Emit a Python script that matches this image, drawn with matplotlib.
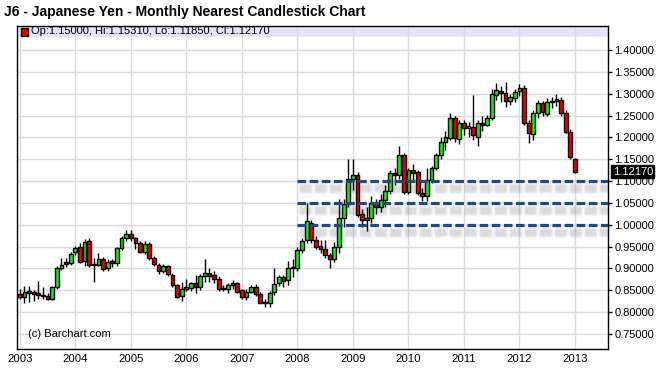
import pandas as pd
import matplotlib
matplotlib.use('Agg')
import matplotlib.pyplot as plt
import matplotlib.transforms as mtransforms
from matplotlib.patches import Rectangle

plt.rcParams['font.family'] = ['Liberation Sans', 'DejaVu Sans']

# monthly candles, Jan 2003 .. Jan 2013
months = pd.date_range('2003-01-01', periods=121, freq='MS')

opens = [
    0.841, 0.834, 0.847, 0.844, 0.843, 0.838, 0.837, 0.830, 0.857, 0.900, 0.914, 0.912,  # 2003
    0.937, 0.948, 0.916, 0.963, 0.909, 0.909, 0.921, 0.900, 0.915, 0.913, 0.946, 0.970,  # 2004
    0.980, 0.969, 0.958, 0.938, 0.956, 0.923, 0.908, 0.894, 0.906, 0.886, 0.862, 0.836,  # 2005
    0.854, 0.856, 0.866, 0.858, 0.883, 0.890, 0.885, 0.877, 0.856, 0.854, 0.862, 0.866,  # 2006
    0.850, 0.834, 0.846, 0.858, 0.841, 0.824, 0.820, 0.847, 0.866, 0.881, 0.873, 0.900,  # 2007
    0.902, 0.942, 0.965, 1.005, 0.965, 0.951, 0.945, 0.931, 0.921, 0.950, 1.015, 1.047,  # 2008
    1.105, 1.114, 1.025, 1.011, 1.015, 1.049, 1.040, 1.056, 1.077, 1.118, 1.114, 1.160,  # 2009
    1.076, 1.125, 1.120, 1.072, 1.066, 1.103, 1.131, 1.160, 1.190, 1.198, 1.245, 1.197,  # 2010
    1.234, 1.221, 1.224, 1.202, 1.234, 1.229, 1.244, 1.298, 1.306, 1.301, 1.283, 1.289,  # 2011
    1.306, 1.314, 1.232, 1.207, 1.255, 1.278, 1.253, 1.280, 1.283, 1.285, 1.255, 1.213,  # 2012
    1.15000,
]
highs = [
    0.852, 0.860, 0.861, 0.851, 0.871, 0.858, 0.845, 0.860, 0.905, 0.925, 0.923, 0.937,
    0.952, 0.958, 0.968, 0.970, 0.925, 0.935, 0.927, 0.922, 0.922, 0.950, 0.975, 0.987,
    0.988, 0.972, 0.963, 0.962, 0.960, 0.928, 0.912, 0.910, 0.909, 0.889, 0.865, 0.870,
    0.875, 0.868, 0.885, 0.888, 0.921, 0.900, 0.895, 0.883, 0.863, 0.866, 0.873, 0.870,
    0.853, 0.852, 0.862, 0.864, 0.846, 0.829, 0.848, 0.902, 0.885, 0.886, 0.918, 0.922,
    0.948, 0.970, 1.049, 1.010, 0.975, 0.965, 0.965, 0.935, 0.960, 1.060, 1.060, 1.150,
    1.150, 1.120, 1.035, 1.040, 1.065, 1.060, 1.070, 1.090, 1.125, 1.130, 1.180, 1.165,
    1.130, 1.140, 1.125, 1.085, 1.130, 1.135, 1.165, 1.200, 1.215, 1.255, 1.250, 1.240,
    1.240, 1.235, 1.297, 1.240, 1.250, 1.252, 1.310, 1.325, 1.318, 1.327, 1.300, 1.310,
    1.322, 1.320, 1.240, 1.262, 1.285, 1.283, 1.290, 1.292, 1.299, 1.292, 1.262, 1.220,
    1.15310,
]
lows = [
    0.830, 0.822, 0.823, 0.825, 0.830, 0.830, 0.828, 0.827, 0.852, 0.897, 0.904, 0.908,
    0.930, 0.912, 0.906, 0.904, 0.870, 0.905, 0.895, 0.895, 0.903, 0.905, 0.942, 0.962,
    0.963, 0.945, 0.935, 0.932, 0.920, 0.905, 0.888, 0.890, 0.882, 0.858, 0.832, 0.825,
    0.848, 0.848, 0.845, 0.850, 0.870, 0.870, 0.867, 0.849, 0.848, 0.845, 0.852, 0.844,
    0.830, 0.828, 0.843, 0.838, 0.820, 0.812, 0.812, 0.840, 0.860, 0.857, 0.862, 0.880,
    0.895, 0.935, 0.958, 0.958, 0.945, 0.935, 0.925, 0.900, 0.915, 0.935, 0.995, 1.040,
    1.080, 1.018, 0.995, 0.986, 1.005, 1.025, 1.030, 1.040, 1.070, 1.090, 1.105, 1.070,
    1.070, 1.100, 1.068, 1.055, 1.055, 1.095, 1.125, 1.150, 1.170, 1.195, 1.190, 1.185,
    1.205, 1.200, 1.195, 1.180, 1.215, 1.225, 1.240, 1.285, 1.280, 1.270, 1.275, 1.280,
    1.295, 1.228, 1.188, 1.195, 1.245, 1.250, 1.248, 1.268, 1.272, 1.250, 1.210, 1.150,
    1.11850,
]
closes = [
    0.834, 0.847, 0.845, 0.842, 0.839, 0.836, 0.830, 0.857, 0.900, 0.909, 0.910, 0.932,
    0.946, 0.915, 0.960, 0.908, 0.907, 0.921, 0.899, 0.915, 0.912, 0.946, 0.970, 0.980,
    0.969, 0.958, 0.938, 0.957, 0.923, 0.910, 0.894, 0.906, 0.887, 0.862, 0.835, 0.854,
    0.858, 0.866, 0.858, 0.883, 0.889, 0.883, 0.877, 0.854, 0.852, 0.862, 0.866, 0.847,
    0.834, 0.847, 0.858, 0.841, 0.822, 0.820, 0.845, 0.864, 0.880, 0.872, 0.900, 0.902,
    0.942, 0.963, 1.008, 0.965, 0.950, 0.944, 0.931, 0.921, 0.950, 1.015, 1.047, 1.105,
    1.114, 1.022, 1.011, 1.015, 1.049, 1.040, 1.056, 1.078, 1.118, 1.113, 1.160, 1.076,
    1.125, 1.119, 1.072, 1.065, 1.103, 1.131, 1.159, 1.190, 1.200, 1.245, 1.198, 1.234,
    1.222, 1.225, 1.205, 1.234, 1.229, 1.244, 1.299, 1.308, 1.301, 1.283, 1.292, 1.303,
    1.314, 1.232, 1.209, 1.255, 1.278, 1.257, 1.282, 1.284, 1.285, 1.255, 1.213, 1.156,
    1.12170,
]

support_levels = [1.10, 1.05, 1.00]
support_start = 2008.0
year_ticks = list(range(2003, 2014))
price_ticks = [0.75, 0.80, 0.85, 0.90, 0.95, 1.00, 1.05, 1.10, 1.15, 1.20, 1.25, 1.30, 1.35, 1.40]

title = 'J6 - Japanese Yen - Monthly Nearest Candlestick Chart'
info = 'Op:%.5f, Hi:%.5f, Lo:%.5f, Cl:%.5f' % (opens[-1], highs[-1], lows[-1], closes[-1])

W, H = 665, 380


def fx(px):
    return px / W


def fy(py):
    return 1 - py / H


fig = plt.figure(figsize=(W / 100, H / 100), dpi=100)
ax = fig.add_axes([fx(17), fy(349), (608 - 17) / W, (349 - 26) / H])
ymin, ymax = 0.7157, 1.4549
xmax = 2013.595
ax.set_xlim(2002.95, xmax)
ax.set_ylim(ymin, ymax)

# grid + lavender info strip
ax.set_axisbelow(True)
ax.grid(True, color='#dadada', lw=1)
ax.add_patch(Rectangle((0, 1 - 11 / 323), 1, 11 / 323, transform=ax.transAxes,
                       facecolor='#e4e4fa', edgecolor='none', zorder=0.2))

x = months.year + (months.month - 1) / 12.0
w = 0.82 / 12
for xi, o, h, l, c in zip(x, opens, highs, lows, closes):
    ax.vlines(xi, l, h, color='black', lw=1, zorder=3)
    col = '#11ee11' if c >= o else '#ee0000'
    bottom = min(o, c)
    height = max(abs(c - o), 0.004)
    ax.add_patch(Rectangle((xi - w / 2, bottom), w, height, facecolor=col,
                           edgecolor='black', lw=1, zorder=4))

# support lines with a soft blurred shadow underneath
px_val = (ymax - ymin) / 323
for lvl in support_levels:
    for off in [3, 4, 5, 6, 7, 8, 9, 10, 11, 12]:
        fade = 0.025 if off in (3, 4, 11, 12) else 0.04
        for shift in (-0.012, 0.0, 0.012, 0.024):
            ax.plot([support_start + 0.05 + shift, xmax], [lvl - off * px_val] * 2,
                    color='#707070', alpha=fade, lw=1.2, dashes=(6.5, 2.5),
                    dash_capstyle='round', zorder=2)
    ax.plot([support_start, xmax], [lvl, lvl], color='#1f4a7c', lw=2.3,
            dashes=(2.7, 1.1), dash_capstyle='butt', zorder=5)

# axes styling
for s in ax.spines.values():
    s.set_color('black')
    s.set_linewidth(1)
ax.set_xticks(year_ticks)
ax.set_xticklabels([str(y) for y in year_ticks], fontsize=8.2)
ax.tick_params(axis='x', length=0, pad=3.5)
ax.yaxis.tick_right()
ax.set_yticks(price_ticks)
ax.set_yticklabels(['%.5f' % p for p in price_ticks], fontsize=8)
ax.tick_params(axis='y', length=3, width=1, direction='out', pad=1.5)

# last price marker
trans = mtransforms.blended_transform_factory(ax.transAxes, ax.transData)
ax.text(1.008, closes[-1], '%.5f' % closes[-1], transform=trans, color='white',
        fontsize=8, ha='left', va='center', zorder=10,
        bbox=dict(boxstyle='square,pad=0.12', facecolor='black', edgecolor='black'))

# texts
fig.text(fx(4), fy(12), title, fontsize=10, fontweight='bold', va='center', ha='left')
fig.patches.append(Rectangle((fx(21), fy(36)), 7 / W, 8 / H, transform=fig.transFigure,
                             facecolor='#ee0000', edgecolor='black', lw=1, figure=fig))
fig.text(fx(31), fy(31.5), info, fontsize=8, va='center', ha='left')
fig.text(fx(28), fy(334), '(c) Barchart.com', fontsize=8, va='center', ha='left')

fig.savefig('out.png', dpi=100)
